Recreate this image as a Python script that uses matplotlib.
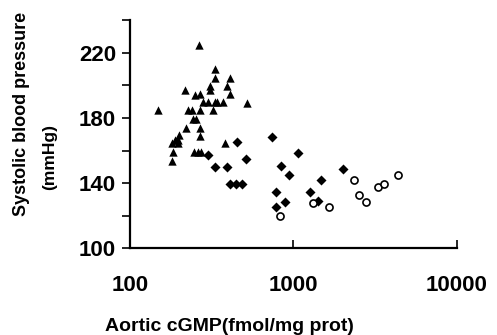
import matplotlib
matplotlib.use("Agg")
import matplotlib.pyplot as plt
from matplotlib.ticker import FixedLocator, NullLocator

# triangles
tri_x = [265, 333, 333, 409, 308, 308, 217, 390, 250, 268, 409,
         281, 302, 331, 341, 372, 517, 149, 227, 238, 268, 323,
         244, 255, 220, 268, 200, 268, 188, 198, 180, 198, 184,
         247, 259, 272, 381, 180]
tri_y = [225, 209.7, 204.6, 204.6, 199.5, 197.4, 197.4, 199.5, 194.3, 194.8, 194.8,
         189.8, 189.8, 189.8, 189.8, 189.8, 189.2, 185.1, 185.1, 185.1, 185.1, 185.1,
         179.4, 179.4, 173.8, 173.8, 169.7, 169.1, 166.6, 166.6, 164.6, 164.6, 159.1,
         159.1, 159.1, 159.1, 164.6, 153.7]

# filled diamonds
dia_x = [299, 453, 510, 331, 390, 409, 446, 482, 736, 1072, 835,
         938, 2018, 1472, 781, 1262, 781, 887, 1406]
dia_y = [157.4, 165.2, 154.8, 149.6, 149.6, 139.6, 139.6, 139.6, 168.1, 158.5, 150.6,
         145.1, 148.6, 141.6, 134.4, 134.4, 125.2, 128.1, 129.3]

# open circles
circ_x = [826, 1310, 1655, 2344, 2528, 2767, 3306, 3578, 4375]
circ_y = [119.9, 127.7, 125.2, 142, 132.4, 128.1, 137.5, 139.4, 145.1]

y_major = [100, 140, 180, 220]
y_minor = [120, 160, 200, 240]
x_ticks = [100, 1000, 10000]
x_labels = ["100", "1000", "10000"]


def main():
    plt.rcParams['font.family'] = ['Liberation Sans', 'DejaVu Sans']
    plt.rcParams['font.weight'] = 'bold'
    fig = plt.figure(figsize=(4.97, 3.35), dpi=100)
    ax = fig.add_axes([0.2616, 0.2588, 0.9189 - 0.2616, 0.940 - 0.2588])

    ax.scatter(tri_x, tri_y, marker='^', s=36, c='black', linewidths=0)
    ax.scatter(dia_x, dia_y, marker='D', s=26, c='black', linewidths=0)
    ax.scatter(circ_x, circ_y, marker='o', s=26, facecolors='white',
               edgecolors='black', linewidths=1.2)

    ax.set_xscale('log')
    ax.set_xlim(100, 10000)
    ax.set_ylim(100, 240)

    # axes look
    for side in ['top', 'right']:
        ax.spines[side].set_visible(False)
    ax.spines['left'].set_linewidth(1.6)
    ax.spines['bottom'].set_linewidth(1.6)

    ax.xaxis.set_major_locator(FixedLocator(x_ticks))
    ax.set_xticklabels(x_labels)
    ax.xaxis.set_minor_locator(NullLocator())
    ax.yaxis.set_major_locator(FixedLocator(y_major))
    ax.yaxis.set_minor_locator(FixedLocator(y_minor))

    ax.tick_params(axis='x', which='major', direction='in', length=6, width=1.2,
                   labelsize=16, pad=19)
    ax.tick_params(axis='y', which='both', direction='out', length=6, width=1.2,
                   labelsize=16, pad=4)

    fig.text(0.044, 0.66, "Systolic blood pressure", rotation=90,
             ha='center', va='center', fontsize=13)
    fig.text(0.10, 0.531, "(mmHg)", rotation=90,
             ha='center', va='center', fontsize=12.5)
    fig.text(0.461, 0.025, "Aortic cGMP(fmol/mg prot)",
             ha='center', va='center', fontsize=14)

    fig.savefig("out.png", dpi=100)


if __name__ == "__main__":
    main()
